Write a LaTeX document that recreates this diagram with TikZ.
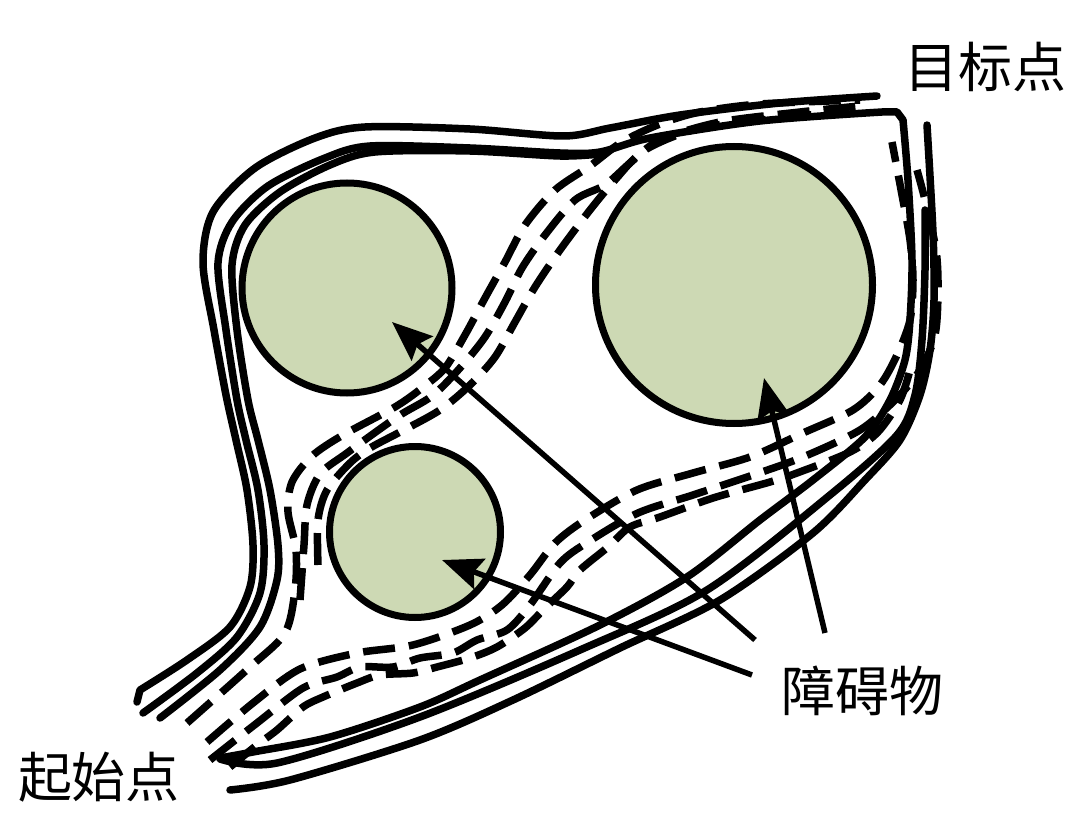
\documentclass[tikz,border=0pt]{standalone}
\usepackage{fontspec}
\newfontfamily\cjk{Noto Sans CJK SC}
\usetikzlibrary{arrows.meta}
\definecolor{obsfill}{RGB}{205,217,180}
\begin{document}
\begin{tikzpicture}[x=1pt,y=-1pt,
  route/.style={line width=7.5pt, line cap=round, line join=round},
  droute/.style={line width=7.5pt, line cap=butt, dash pattern=on 32pt off 14pt},
  obst/.style={circle, draw, line width=7pt, fill=obsfill, inner sep=0pt},
  ptr/.style={line width=5.5pt, -{Stealth[length=40pt,width=32pt,inset=6pt]}},
  lbl/.style={font=\cjk\fontsize{54}{60}\selectfont, inner sep=0pt}]
\useasboundingbox (0,0) rectangle (1080,824);

% obstacles
\node[obst, minimum size=210pt] (c1) at (347,288) {};
\node[obst, minimum size=277pt] (c2) at (734,285) {};
\node[obst, minimum size=171pt] (c3) at (415,532) {};

% solid routes (upper-left)
\draw[route] (137,702) -- plot[smooth] coordinates {(140,690) (187,660) (230,627) (250,587) (253,545) (247,490) (236,440) (226,395) (214,330) (203,263) (213,212) (255,168) (315,138) (365,127) (470,129) (563,136) (610,128) (680,115) (780,103) (877,96)};
\draw[route] plot[smooth] coordinates {(143,713) (197,673) (237,637) (260,593) (264,545) (258,490) (246,440) (237,400) (226,330) (218,263) (232,222) (268,186) (325,158) (370,146) (470,148) (560,153) (600,152) (650,138) (760,121) (882,112)} -- (897,112) -- plot[smooth] coordinates {(903,120) (908,180) (912,260) (910,320) (905,360) (890,400) (865,437) (813,480) (760,520) (687,577) (600,625) (480,680) (420,707) (330,737) (253,752) (220,758)};
\draw[route] plot[smooth] coordinates {(160,718) (220,670) (260,627) (277,580) (278,545) (270,490) (258,440) (248,400) (237,330) (232,265) (245,225) (280,192) (330,165) (375,152) (470,151) (560,156) (600,154)};

% solid routes (lower-right)
\draw[route] plot[smooth] coordinates {(220,759) (277,763) (420,717) (580,650) (707,590) (830,495) (897,435) (915,395) (922,340) (925,270) (925,210)};
\draw[route] plot[smooth] coordinates {(230,790) (290,780) (420,740) (513,700) (620,648) (720,600) (813,533) (865,480) (900,440) (920,395) (930,350) (934,300) (933,233) (927,125)};

% dashed routes (middle)
\draw[droute] plot[smooth] coordinates {(187,723) (250,667) (285,633) (295,590) (296,550) (288,512) (292,482) (312,456) (343,435) (395,407) (422,388) (445,368) (465,335) (485,298) (505,262) (525,225) (555,190) (590,166) (622,142) (660,124) (700,112) (760,104) (860,100)};
\draw[droute] plot[smooth] coordinates {(300,600) (304,545) (307,505) (320,474) (347,453) (397,417) (432,396) (460,368) (485,337) (505,302) (522,268) (545,235) (575,200) (605,185) (630,163) (660,140) (720,122) (800,112) (860,106)};
\draw[droute] plot[smooth] coordinates {(318,565) (318,520) (327,490) (350,463) (370,448) (402,431) (440,410) (470,385) (495,357) (515,322) (535,287) (560,250) (590,210) (615,180) (645,150) (700,128) (780,118) (830,113)};

% dashed routes (lower)
\draw[droute] plot[smooth] coordinates {(207,742) (253,703) (300,669) (357,653) (413,645) (470,625) (502,605) (530,575) (555,543) (585,520) (637,490) (693,473) (750,457) (803,433) (853,410) (880,385) (897,355) (910,320) (913,280) (910,240) (902,195) (892,142)};
\draw[droute] plot[smooth] coordinates {(210,760) (257,723) (303,688) (337,677) (360,667) (393,667) (420,658) (453,653) (477,640) (507,630) (530,605) (560,563) (588,542) (638,513) (693,495) (753,475) (803,457) (860,430) (895,400) (920,370) (935,335) (938,290) (936,250) (925,200) (917,170)};
\draw[droute] plot[smooth] coordinates {(230,767) (257,745) (277,730) (303,707) (323,697) (357,683) (380,675) (413,673) (437,667) (470,658) (497,647) (525,628) (545,608) (567,587) (580,570) (608,547) (630,527) (660,517) (713,498) (770,482) (797,473) (850,452) (878,432) (900,400) (910,370)};

% labels
\node[lbl] (goal) at (985,67) {目标点};
\node[lbl] (obs) at (862,691) {障碍物};
\node[lbl] (start) at (99,777) {起始点};

% pointers
\coordinate (s1) at (755,640); \coordinate (t1) at (392,322);
\coordinate (s2) at (825,633); \coordinate (t2) at (764,378);
\coordinate (s3) at (752,675); \coordinate (t3) at (442,560);
\draw[ptr] (s1) -- (t1);
\draw[ptr] (s2) -- (t2);
\draw[ptr] (s3) -- (t3);
\end{tikzpicture}
\end{document}
